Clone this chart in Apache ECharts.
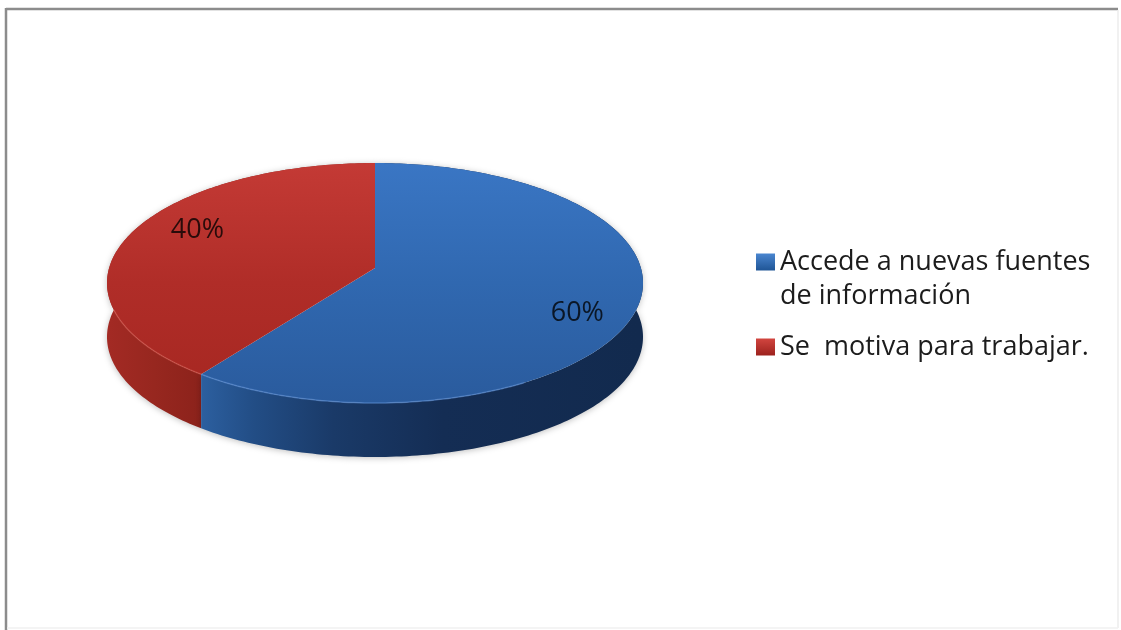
<!DOCTYPE html>
<html><head><meta charset="utf-8">
<style>html,body{margin:0;padding:0;background:#fff}#c{width:1121px;height:630px}</style>
<script src="https://cdn.jsdelivr.net/npm/echarts@6/dist/echarts.min.js"></script>
</head><body><div id="c"></div>
<script>
const categories = ['Accede a nuevas fuentes\nde información', 'Se  motiva para trabajar.'];
const values = [60, 40];
const FONT = '"Open Sans"';

const chart = echarts.init(document.getElementById('c'), null, {renderer:'canvas'});
const total = values.reduce((a,b)=>a+b,0);
const G = (x,y,x2,y2,stops)=>new echarts.graphic.LinearGradient(x,y,x2,y2,stops.map(c=>({offset:c[0],color:c[1]})),true);

// perspective projection of the tilted disc
const CX=375, CY=268, A=118.1, B=265.9, K=0.125, DEPTH=54;
function proj(deg, drop){
  const a=deg*Math.PI/180, u=Math.sin(a), v=-Math.cos(a), w=1-K*v;
  return [CX+B*u/w, CY+A*v/w+(drop||0)];
}
function arc(a0,a1,drop){
  const n=Math.max(2,Math.ceil(Math.abs(a1-a0))), p=[];
  for(let i=0;i<=n;i++) p.push(proj(a0+(a1-a0)*i/n,drop));
  return p;
}
const looks=[
 {top:[[0,'#3a76c4'],[0.5,'#3068b0'],[1,'#2a5b9d']],
  wall:[[0,'#2c5f9f'],[0.12,'#224d85'],[0.3,'#1a3a68'],[0.55,'#142d54'],[1,'#122a4e']],
  wallFrom:202, wallTo:640, rimFrom:150, rimTo:216,
  rim:'rgba(90,140,210,0.6)'},
 {top:[[0,'#c43a35'],[0.5,'#b02d28'],[1,'#a62721']],
  wall:[[0,'#a32a24'],[0.5,'#97271f'],[1,'#8c221b']],
  wallFrom:107, wallTo:202, rimFrom:216, rimTo:250,
  rim:'rgba(215,90,80,0.5)'}
];
function renderer(idx){
  return function(params,api){
    const val=api.value(0);
    let before=0; for(let i=0;i<idx;i++) before+=values[i];
    const a0=before/total*360, a1=a0+val/total*360, mid=(a0+a1)/2;
    const look=looks[idx];
    const wall={type:'polygon',shape:{points:arc(a0,a1,0).concat(arc(a1,a0,DEPTH))},z2:idx===0?2:1,
      style:{fill:G(look.wallFrom,0,look.wallTo,0,look.wall),shadowBlur:6,shadowColor:'rgba(0,0,0,0.25)',shadowOffsetY:1}};
    const top={type:'polygon',shape:{points:[[CX,CY]].concat(arc(a0,a1,0))},z2:5,
      style:{fill:G(0,163,0,403,look.top)}};
    const rim={type:'polyline',shape:{points:arc(look.rimFrom,look.rimTo,0)},z2:6,
      style:{fill:null,stroke:look.rim,lineWidth:1.5}};
    const m=proj(mid,0);
    const label={type:'text',z2:7,x:CX+(m[0]-CX)*0.75+5,y:CY+(m[1]-CY)*1.13+2,
      style:{text:Math.round(val/total*100)+'%',font:'27px '+FONT,fill:'rgba(0,0,0,0.78)',align:'center',verticalAlign:'middle'}};
    return {type:'group',children:[wall,top,rim,label]};
  };
}
const frame=[
 {type:'line',z:-1,shape:{x1:6,y1:9,x2:1118,y2:9},style:{stroke:'#8c8c8c',lineWidth:2.5}},
 {type:'line',z:-1,shape:{x1:6,y1:8,x2:6,y2:630},style:{stroke:'#8c8c8c',lineWidth:2.5}},
 {type:'line',z:-1,shape:{x1:1118,y1:10,x2:1118,y2:628},style:{stroke:'#ececec',lineWidth:1.5}},
 {type:'line',z:-1,shape:{x1:7,y1:628,x2:1118,y2:628},style:{stroke:'#f0f0f0',lineWidth:1.5}}
];
const legendColors=[
 new echarts.graphic.LinearGradient(0,0,0,1,[{offset:0,color:'#4a86d0'},{offset:1,color:'#1f5596'}]),
 new echarts.graphic.LinearGradient(0,0,0,1,[{offset:0,color:'#d2453f'},{offset:1,color:'#9c221d'}])
];
function legend(i,top,fmt){
  return {show:true,orient:'vertical',left:756,top:top,padding:0,itemWidth:19,itemHeight:17,itemGap:0,
    selectedMode:false,icon:'rect',formatter:fmt,
    data:[{name:categories[i],itemStyle:{color:legendColors[i]}}],
    textStyle:{fontFamily:FONT,fontSize:27,lineHeight:34,color:'#1c1c1c'}};
}
chart.setOption({
  animation:false,
  backgroundColor:'#fff',
  graphic:frame,
  legend:[legend(0,211,n=>'\n'+n),legend(1,330,n=>n)],
  series:values.map((v,i)=>({
    type:'custom',name:categories[i],coordinateSystem:'none',
    renderItem:renderer(i),
    data:[[v]],
    itemStyle:{color:i===0?'#3068b0':'#b02d28'},
    silent:true
  }))
});
</script></body></html>
